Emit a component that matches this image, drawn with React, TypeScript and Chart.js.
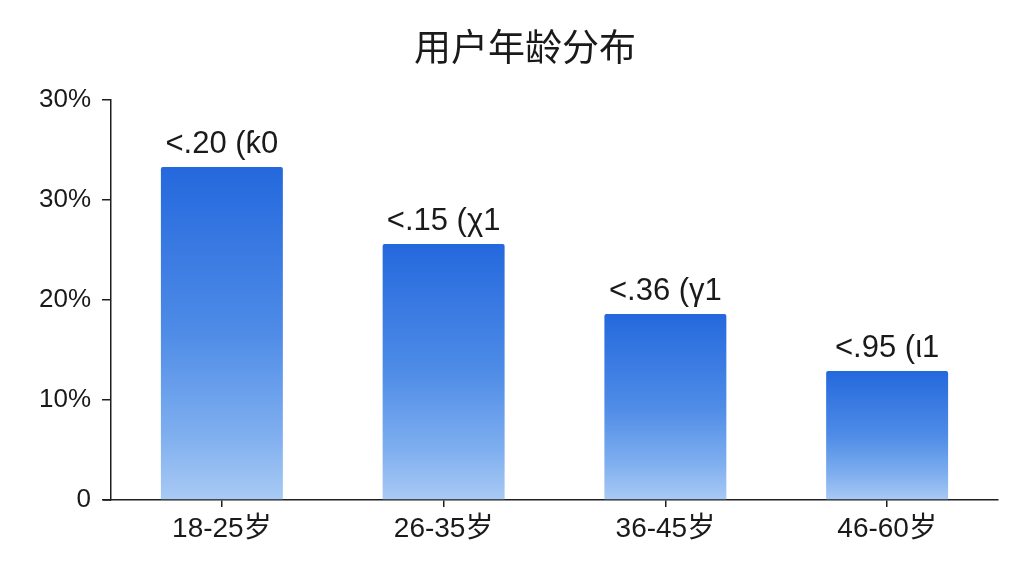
import React, { useEffect, useRef } from "react";
import { Chart, registerables } from "chart.js";

Chart.register(...registerables);

const title = "用户年龄分布";
const categories = ["18-25岁", "26-35岁", "36-45岁", "46-60岁"];
const values = [33.3, 25.6, 18.6, 12.9];
const barLabels = ["<.20 (ƙ0", "<.15 (χ1", "<.36 (γ1", "<.95 (ι1"];
const yTickValues = [0, 10, 20, 30, 40];
const yTickLabels = ["0", "10%", "20%", "30%", "30%"];

const FONT = "'Liberation Sans', Arial, 'Noto Sans CJK SC', sans-serif";
const TITLE_FONT = "'Noto Sans CJK SC', 'Liberation Sans', sans-serif";
const AXIS_COLOR = "#1e1e1e";
const TEXT_COLOR = "#1a1a1a";

const titlePlugin = {
  id: "customTitle",
  afterDraw(chart: any) {
    const ctx = chart.ctx;
    ctx.save();
    ctx.font = `400 37px ${TITLE_FONT}`;
    ctx.fillStyle = TEXT_COLOR;
    ctx.textAlign = "center";
    ctx.textBaseline = "middle";
    ctx.fillText(title, 525, 47);
    ctx.restore();
  },
};

const barLabelPlugin = {
  id: "barLabels",
  afterDatasetsDraw(chart: any) {
    const ctx = chart.ctx;
    const meta = chart.getDatasetMeta(0);
    ctx.save();
    ctx.font = `31px ${FONT}`;
    ctx.fillStyle = TEXT_COLOR;
    ctx.textAlign = "center";
    ctx.textBaseline = "middle";
    meta.data.forEach((bar: any, i: number) => {
      ctx.fillText(barLabels[i], bar.x, bar.y - 23);
    });
    ctx.restore();
  },
};

const xAxisExtendPlugin = {
  id: "xAxisExtend",
  afterDraw(chart: any) {
    const { ctx, chartArea } = chart;
    ctx.save();
    ctx.strokeStyle = AXIS_COLOR;
    ctx.lineWidth = 1.5;
    ctx.beginPath();
    ctx.moveTo(chartArea.left - 8, chartArea.bottom);
    ctx.lineTo(chartArea.left, chartArea.bottom);
    ctx.stroke();
    ctx.restore();
  },
};

export default function App() {
  const canvasRef = useRef<HTMLCanvasElement | null>(null);

  useEffect(() => {
    if (!canvasRef.current) return;
    const chart = new Chart(canvasRef.current, {
      type: "bar",
      data: {
        labels: categories,
        datasets: [
          {
            data: values,
            backgroundColor: (c: any) => {
              const ch = c.chart;
              if (!ch.chartArea || c.dataIndex === undefined) return "#4c8ae6";
              const ys = ch.scales.y;
              const top = ys.getPixelForValue(values[c.dataIndex]);
              const bottom = ys.getPixelForValue(0);
              const g = ch.ctx.createLinearGradient(0, top, 0, bottom);
              g.addColorStop(0, "#2468dd");
              g.addColorStop(0.5, "#4f8ce7");
              g.addColorStop(0.8, "#7eaeef");
              g.addColorStop(1, "#a9caf4");
              return g;
            },
            borderWidth: 0,
            borderRadius: { topLeft: 2, topRight: 2, bottomLeft: 0, bottomRight: 0 },
            borderSkipped: "bottom",
            barPercentage: 0.55,
            categoryPercentage: 1,
          },
        ],
      },
      options: {
        animation: false,
        responsive: false,
        maintainAspectRatio: false,
        layout: { padding: { left: 0, right: 26, top: 100, bottom: 0 } },
        plugins: {
          legend: { display: false },
          tooltip: { enabled: false },
          title: { display: false },
        },
        scales: {
          x: {
            offset: true,
            grid: {
              display: true,
              offset: false,
              drawOnChartArea: false,
              drawTicks: true,
              tickLength: 7,
              color: AXIS_COLOR,
              lineWidth: 1.5,
            },
            border: { display: true, color: AXIS_COLOR, width: 1.5 },
            ticks: {
              color: TEXT_COLOR,
              font: { family: FONT, size: 28 },
              padding: 5,
            },
            afterFit: (s: any) => {
              s.height = 76;
            },
          },
          y: {
            min: 0,
            max: 40,
            afterBuildTicks: (s: any) => {
              s.ticks = yTickValues.map((v) => ({ value: v }));
            },
            grid: {
              display: true,
              drawOnChartArea: false,
              drawTicks: true,
              tickLength: 9,
              color: AXIS_COLOR,
              lineWidth: 1.5,
            },
            border: { display: true, color: AXIS_COLOR, width: 1.5 },
            ticks: {
              color: TEXT_COLOR,
              font: { family: FONT, size: 26 },
              padding: 11,
              callback: (_v: any, i: number) => yTickLabels[i],
            },
            afterFit: (s: any) => {
              s.width = 111;
            },
          },
        },
      },
      plugins: [titlePlugin, barLabelPlugin, xAxisExtendPlugin],
    });
    return () => chart.destroy();
  }, []);

  return (
    <div
      style={{
        position: "fixed",
        left: 0,
        top: 0,
        width: 1024,
        height: 576,
        background: "#ffffff",
      }}
    >
      <canvas ref={canvasRef} width={1024} height={576} style={{ width: 1024, height: 576 }} />
    </div>
  );
}
